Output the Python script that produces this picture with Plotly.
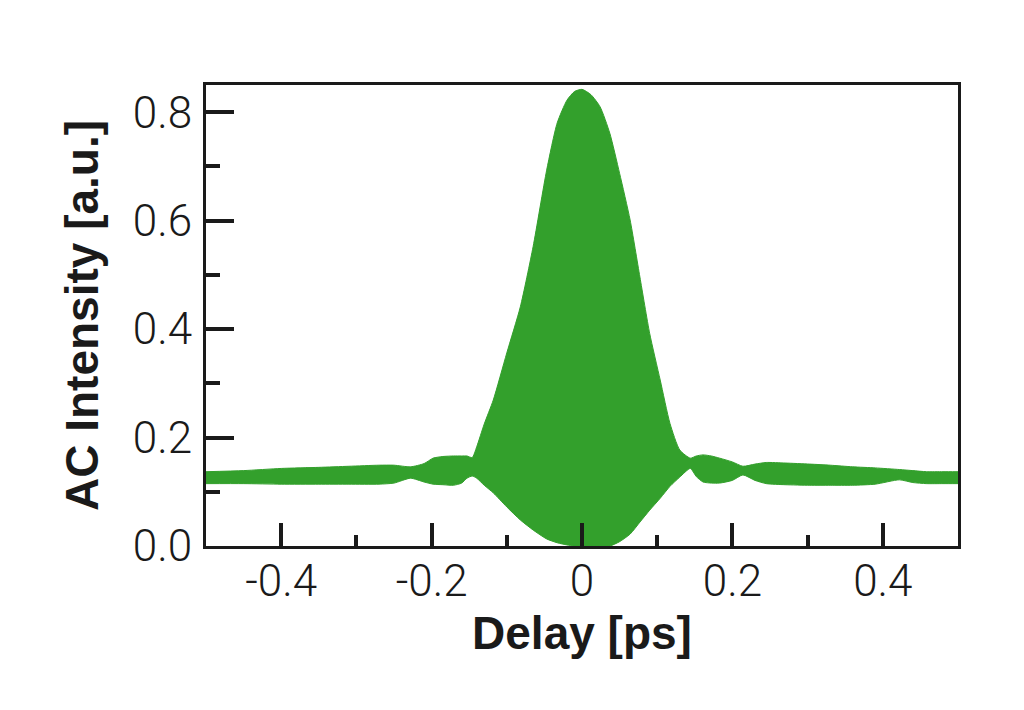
import plotly.graph_objects as go

# Delay values (ps) at which the envelopes were read
delay = [-0.50, -0.45, -0.40, -0.35, -0.31, -0.27, -0.25, -0.228, -0.21, -0.198, -0.185,
         -0.171, -0.16, -0.153, -0.146, -0.14, -0.13, -0.118, -0.10, -0.082, -0.065,
         -0.047, -0.033, -0.02, -0.01, 0.0, 0.012, 0.024, 0.037, 0.05, 0.064, 0.077,
         0.09, 0.104, 0.117, 0.13, 0.144, 0.152, 0.161, 0.172, 0.183, 0.20, 0.214,
         0.23, 0.245, 0.27, 0.303, 0.33, 0.36, 0.39, 0.422, 0.44, 0.458, 0.48, 0.50]

# Upper envelope of the interferometric autocorrelation (a.u.)
upper = [0.137, 0.139, 0.143, 0.145, 0.147, 0.149, 0.149, 0.146, 0.152, 0.162, 0.165,
         0.166, 0.166, 0.166, 0.163, 0.183, 0.225, 0.269, 0.356, 0.441, 0.552,
         0.693, 0.780, 0.822, 0.838, 0.842, 0.832, 0.810, 0.761, 0.687, 0.601, 0.496,
         0.392, 0.306, 0.226, 0.177, 0.162, 0.166, 0.168, 0.166, 0.162, 0.155, 0.147,
         0.151, 0.154, 0.153, 0.151, 0.149, 0.146, 0.144, 0.141, 0.139, 0.137, 0.137, 0.137]

# Lower envelope (a.u.)
lower = [0.115, 0.115, 0.114, 0.114, 0.114, 0.114, 0.116, 0.125, 0.118, 0.114, 0.113,
         0.112, 0.116, 0.125, 0.129, 0.125, 0.112, 0.098, 0.072, 0.048, 0.0295,
         0.013, 0.006, 0.002, 0.0, 0.0, 0.0, 0.0, 0.0, 0.008, 0.022, 0.044,
         0.066, 0.088, 0.110, 0.127, 0.143, 0.128, 0.118, 0.116, 0.116, 0.121, 0.131,
         0.121, 0.115, 0.113, 0.112, 0.112, 0.112, 0.114, 0.122, 0.117, 0.115, 0.115, 0.115]

x_tickvals = [-0.4, -0.2, 0, 0.2, 0.4]
x_ticktext = ["-0.4", "-0.2", "0", "0.2", "0.4"]
y_tickvals = [0.0, 0.2, 0.4, 0.6, 0.8]
y_ticktext = ["0.0", "0.2", "0.4", "0.6", "0.8"]

green = "#33a02c"

fig = go.Figure()
fig.add_trace(go.Scatter(x=delay, y=lower, mode="lines",
                         line=dict(color=green, width=1, shape="spline", smoothing=0.6),
                         showlegend=False, hoverinfo="skip"))
fig.add_trace(go.Scatter(x=delay, y=upper, mode="lines", fill="tonexty", fillcolor=green,
                         line=dict(color=green, width=1, shape="spline", smoothing=0.6),
                         showlegend=False))

tick_font = dict(family="Roboto, 'Open Sans', sans-serif", size=44, color="#1a1a1a", weight=300)
title_font = dict(family="Liberation Sans, Arial, sans-serif", size=46, color="#1a1a1a", weight="bold")

fig.update_layout(
    width=1024, height=710,
    margin=dict(l=198, r=74, t=77, b=172),
    paper_bgcolor="white", plot_bgcolor="white",
    xaxis=dict(
        range=[-0.5, 0.5], tickvals=x_tickvals, ticktext=x_ticktext,
        ticks="inside", ticklen=23, tickwidth=3.5, tickcolor="#1a1a1a",
        minor=dict(dtick=0.1, tick0=0, ticks="inside", ticklen=11, tickwidth=3.5, tickcolor="#1a1a1a"),
        showline=True, linecolor="#1a1a1a", linewidth=3, mirror=True,
        showgrid=False, zeroline=False, tickfont=tick_font, ticklabelstandoff=-6,
        title=dict(text="Delay [ps]", font=title_font, standoff=10),
    ),
    yaxis=dict(
        range=[0, 0.85], tickvals=y_tickvals, ticktext=y_ticktext,
        ticks="inside", ticklen=28, tickwidth=3.5, tickcolor="#1a1a1a",
        minor=dict(dtick=0.1, tick0=0, ticks="inside", ticklen=14, tickwidth=3.5, tickcolor="#1a1a1a"),
        showline=True, linecolor="#1a1a1a", linewidth=3, mirror=True,
        showgrid=False, zeroline=False, tickfont=tick_font, ticklabelstandoff=2,
        title=dict(text="AC Intensity [a.u.]", font=title_font, standoff=20),
    ),
)

fig.write_html("out.html")
